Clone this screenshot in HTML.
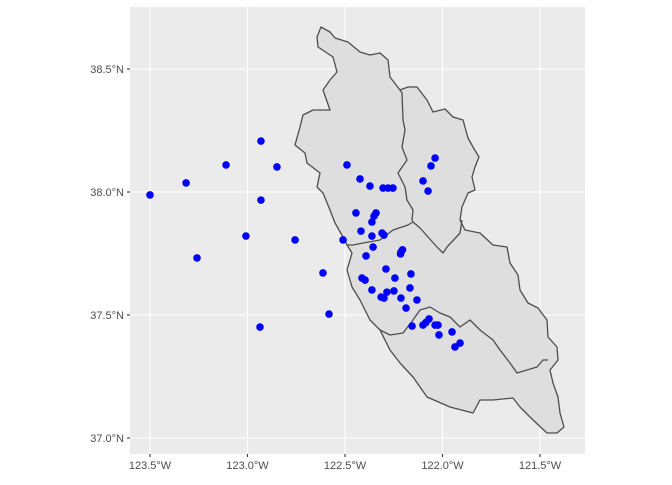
<!DOCTYPE html>
<html><head><meta charset="utf-8"><style>
body{margin:0;background:#fff;}
svg text{font-family:"Liberation Sans",sans-serif;font-size:11px;fill:#4d4d4d;}
</style></head><body>
<svg id="chart" width="672" height="480">
<rect x="130" y="7" width="455" height="447" fill="#ebebeb"/>
<g id="grid"></g>
<g fill="#dedede" stroke="#4d4d4d" stroke-width="1.3" stroke-linejoin="round">
<path d="M321,27 L330,32 L335,38 L348,42 L360,52 L370,55 L380,53 L388,60 L390,77 L400,90 L408,87 L417,87 L427,100 L433,112 L445,109 L453,117 L463,120 L468,138 L473,147 L479,157 L475,167 L472,177 L475,190 L468,193 L462,207 L460,220 L465,230 L480,233 L493,245 L507,247 L510,263 L518,275 L520,290 L528,303 L538,308 L547,320 L548,337 L557,347 L558,360 L550,370 L553,383 L558,397 L560,413 L564,427 L557,433 L547,433 L533,420 L520,407 L513,398 L493,400 L480,400 L473,413 L450,407 L427,397 L413,377 L400,363 L390,350 L380,330 L370,320 L360,300 L352,287 L347,270 L352,253 L347,245 L343,237 L335,223 L330,210 L323,193 L317,187 L320,173 L307,163 L305,153 L295,145 L300,127 L303,115 L313,110 L330,110 L323,90 L330,80 L337,72 L333,57 L318,47 L317,37 Z"/>
<path fill="none" d="M400,90 L402,93 L403,120 L405,130 L402,147 L407,160 L398,173 L405,187 L407,200 L413,210 L412,220 L413,222 L420,228 L437,247 L443,253 L447,247 L460,233 L462,220"/>
<path fill="none" d="M413,222 L408,225 L393,230 L380,240 L363,243 L353,245 L347,245"/>
<path fill="none" d="M380,330 L390,335 L403,333 L413,320 L420,310 L430,307 L440,313 L450,317 L460,327 L470,320 L480,330 L493,340 L500,350 L510,363 L517,373 L537,367 L543,360 L548,360"/>
</g>
<g id="pts"></g>
<g id="axes"></g>
</svg>
<script>
const lonTicks=[-123.5,-123.0,-122.5,-122.0,-121.5];
const lonLabels=["123.5°W","123.0°W","122.5°W","122.0°W","121.5°W"];
const latTicks=[37.0,37.5,38.0,38.5];
const latLabels=["37.0°N","37.5°N","38.0°N","38.5°N"];
const lons=[-123.500,-123.315,-123.259,-123.110,-123.008,-122.931,-122.931,-122.936,-122.849,-122.756,-122.613,-122.582,-122.510,-122.490,-122.423,-122.372,-122.305,-122.279,-122.254,-122.444,-122.341,-122.351,-122.362,-122.418,-122.362,-122.310,-122.300,-122.356,-122.392,-122.213,-122.290,-122.162,-122.413,-122.397,-122.244,-122.362,-122.285,-122.249,-122.167,-122.315,-122.300,-122.213,-122.131,-122.187,-122.156,-122.100,-122.069,-122.038,-122.023,-122.018,-121.951,-121.936,-121.910,-122.038,-122.059,-122.100,-122.074,-122.205,-122.215,-122.085];
const lats=[37.988,38.037,37.732,38.110,37.821,38.207,37.967,37.451,38.102,37.805,37.671,37.504,37.805,38.110,38.053,38.024,38.016,38.016,38.016,37.915,37.915,37.902,37.878,37.841,37.821,37.833,37.825,37.776,37.740,37.756,37.687,37.667,37.650,37.642,37.650,37.602,37.593,37.598,37.610,37.573,37.569,37.569,37.561,37.528,37.455,37.459,37.484,37.459,37.459,37.419,37.431,37.370,37.386,38.138,38.106,38.045,38.004,37.765,37.748,37.470];
const X=v=>150+(v+123.5)*195;
const Y=v=>192-(v-38)*246;
const NS="http://www.w3.org/2000/svg";
function mk(t,a,p){const e=document.createElementNS(NS,t);for(const k in a)e.setAttribute(k,a[k]);p.appendChild(e);return e;}
const grid=document.getElementById('grid'),axes=document.getElementById('axes'),pts=document.getElementById('pts');
lonTicks.forEach((v,i)=>{
 const l=mk('line',{x1:X(v),x2:X(v),y1:7,y2:454,stroke:'#fff','stroke-width':1.1},grid);
 
 
 const t=mk('line',{x1:X(v),x2:X(v),y1:454,y2:457,stroke:'#333','stroke-width':1.1},axes);
 
 
 const tx=mk('text',{x:X(v),y:469,'text-anchor':'middle'},axes);tx.textContent=lonLabels[i];
 
 
});
latTicks.forEach((v,i)=>{
 const l=mk('line',{x1:130,x2:585,y1:Y(v),y2:Y(v),stroke:'#fff','stroke-width':1.1},grid);
 
 
 const t=mk('line',{x1:127,x2:130,y1:Y(v),y2:Y(v),stroke:'#333','stroke-width':1.1},axes);
 
 
 const tx=mk('text',{x:124,y:Y(v)+4,'text-anchor':'end'},axes);tx.textContent=latLabels[i];
 
 
});
lons.forEach((v,i)=>{
 const c=mk('circle',{cx:X(v),cy:Y(lats[i]),r:3.8,fill:'#0000ff'},pts);
 
 
});
</script>
</body></html>
